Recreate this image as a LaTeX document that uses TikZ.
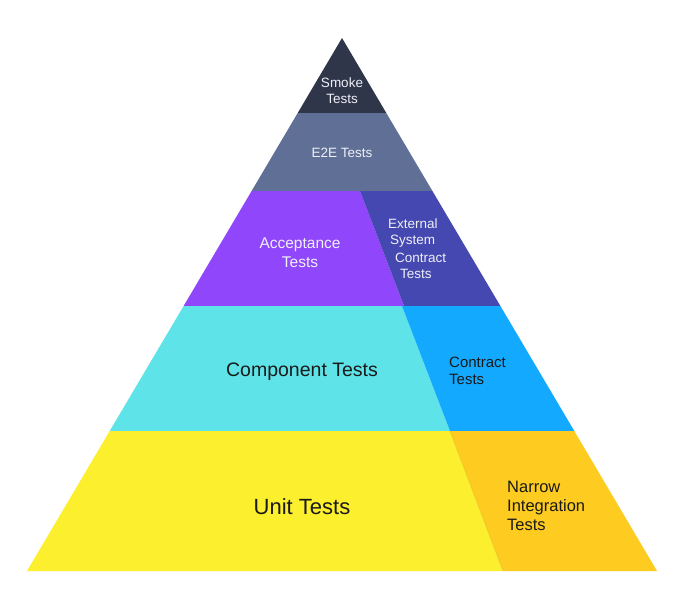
\documentclass[tikz,border=0pt]{standalone}
\usepackage{fontspec}
\setmainfont{Liberation Sans}
\definecolor{smoke}{HTML}{2F3649}
\definecolor{etoe}{HTML}{5F6F95}
\definecolor{accept}{HTML}{9046FA}
\definecolor{extsys}{HTML}{4448B0}
\definecolor{compo}{HTML}{5EE3E8}
\definecolor{contract}{HTML}{13A9FF}
\definecolor{unit}{HTML}{FCEF2E}
\definecolor{narrow}{HTML}{FECB20}
\definecolor{lighttxt}{HTML}{EEF0F6}
\definecolor{darktxt}{HTML}{1A1A1A}
\begin{document}
\begin{tikzpicture}[x=1pt,y=-1pt,
  lightlbl/.style={text=lighttxt, inner sep=0pt},
  darklbl/.style={text=darktxt, inner sep=0pt}]
\useasboundingbox (0,0) rectangle (687,592);
\fill[white] (0,0) rectangle (687,592);
% coordinates of pyramid edges
\coordinate (apex) at (342,38);
\coordinate (l1) at (297.7,113); \coordinate (r1) at (386.3,113);
\coordinate (l2) at (251.6,191); \coordinate (r2) at (432.4,191);
\coordinate (l3) at (183.6,306); \coordinate (r3) at (500.4,306);
\coordinate (l4) at (109.7,431); \coordinate (r4) at (574.3,431);
\coordinate (l5) at (27,571);    \coordinate (r5) at (657,571);
% dividers
\coordinate (d2t) at (360,191); \coordinate (d2b) at (404,306);
\coordinate (d3t) at (402,306); \coordinate (d3b) at (450,431);
\coordinate (d4t) at (450,431); \coordinate (d4b) at (503,571);
% fills
\fill[smoke] (apex) -- (r1) -- (l1) -- cycle;
\fill[etoe] (l1) -- (r1) -- (r2) -- (l2) -- cycle;
\fill[accept] (l2) -- (d2t) -- (d2b) -- (l3) -- cycle;
\fill[extsys] (d2t) -- (r2) -- (r3) -- (d2b) -- cycle;
\fill[compo] (l3) -- (d3t) -- (d3b) -- (l4) -- cycle;
\fill[contract] (d3t) -- (r3) -- (r4) -- (d3b) -- cycle;
\fill[unit] (l4) -- (d4t) -- (d4b) -- (l5) -- cycle;
\fill[narrow] (d4t) -- (r4) -- (r5) -- (d4b) -- cycle;
\draw[narrow!85!black, opacity=0.35, line width=0.8pt] (d4t) -- (d4b);
% labels
\node[lightlbl, align=center, font=\fontsize{13.5}{16}\selectfont] (smokelbl) at (342,91) {Smoke\\Tests};
\node[lightlbl, font=\fontsize{13.5}{16}\selectfont] (e2elbl) at (342,153) {E2E Tests};
\node[lightlbl, align=center, font=\fontsize{15.5}{19}\selectfont] (acclbl) at (300,252.5) {Acceptance\\Tests};
\node[lightlbl, anchor=west, font=\fontsize{13.5}{16}\selectfont] (ext1) at (388,224) {External};
\node[lightlbl, anchor=west, font=\fontsize{13.5}{16}\selectfont] (ext2) at (390,241) {System};
\node[lightlbl, anchor=west, font=\fontsize{13.5}{16}\selectfont] (ext3) at (395,258) {Contract};
\node[lightlbl, anchor=west, font=\fontsize{13.5}{16}\selectfont] (ext4) at (400,274) {Tests};
\node[darklbl, font=\fontsize{19.5}{23}\selectfont] (complbl) at (302,372) {Component Tests};
\node[darklbl, anchor=west, align=left, font=\fontsize{15}{17}\selectfont] (contlbl) at (449,371) {Contract\\Tests};
\node[darklbl, font=\fontsize{22}{26}\selectfont] (unitlbl) at (302,507) {Unit Tests};
\node[darklbl, anchor=west, align=left, font=\fontsize{16.5}{19}\selectfont] (narrlbl) at (507,506) {Narrow\\Integration\\Tests};
\end{tikzpicture}
\end{document}
